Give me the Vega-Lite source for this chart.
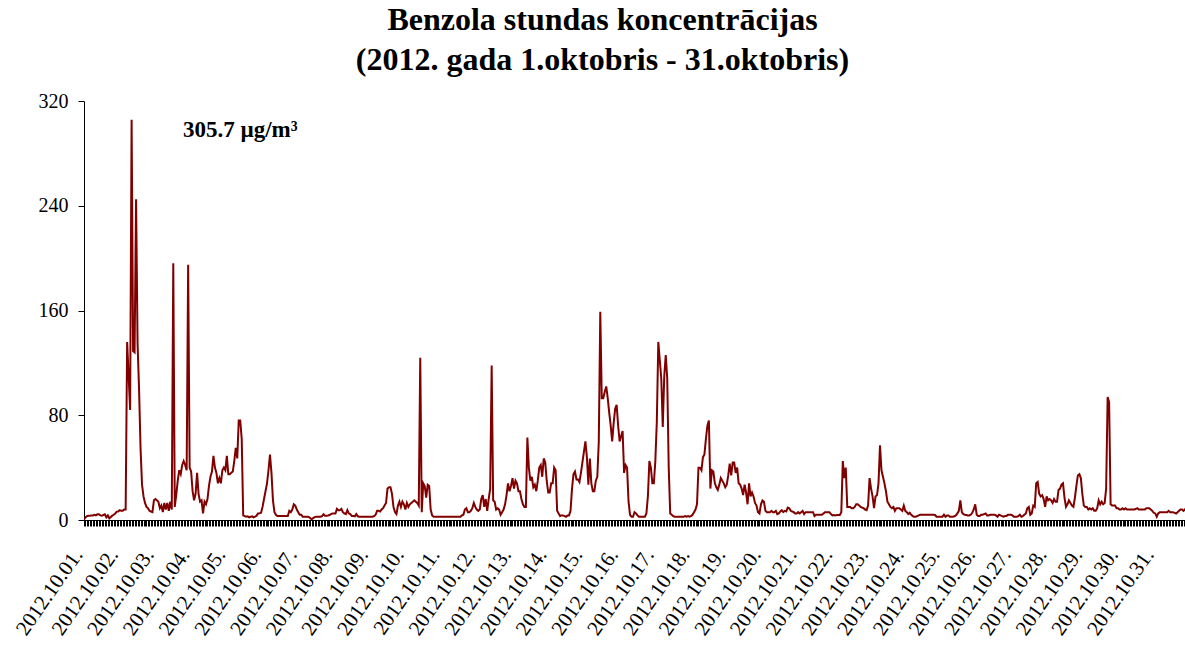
{
  "$schema": "https://vega.github.io/schema/vega-lite/v6.json",
  "width": 1101,
  "height": 419,
  "autosize": "none",
  "padding": {"left": 84, "top": 101, "right": 0, "bottom": 126},
  "background": "white",
  "config": {"view": {"stroke": null}},
  "title": {
    "text": ["Benzola stundas koncentrācijas", "(2012. gada 1.oktobris - 31.oktobris)"],
    "font": "Liberation Serif",
    "fontSize": 32,
    "fontWeight": "bold",
    "color": "black",
    "anchor": "middle",
    "frame": "group",
    "dx": -32,
    "lineHeight": 40,
    "offset": 14
  },
  "layer": [
    {
      "data": {"values": [
{"h":0,"v":0.5},{"h":1,"v":2},{"h":2,"v":3},{"h":3,"v":3.3},{"h":4,"v":3.3},{"h":5,"v":3.5},{"h":6,"v":3.5},{"h":7,"v":4},{"h":8,"v":3.5},{"h":9,"v":4.3},{"h":10,"v":4.3},{"h":11,"v":3.5},{"h":12,"v":3.3},{"h":13,"v":3.8},{"h":14,"v":4.3},{"h":15,"v":2},{"h":16,"v":3.5},{"h":17,"v":1.3},{"h":18,"v":2.3},{"h":19,"v":3.3},{"h":20,"v":4},{"h":21,"v":5},{"h":22,"v":6.4},{"h":23,"v":6.5},
{"h":24,"v":7.5},{"h":25,"v":7},{"h":26,"v":7},{"h":27,"v":8},{"h":28,"v":8},{"h":29,"v":136},{"h":30,"v":110},{"h":31,"v":84},{"h":32,"v":305.7},{"h":33,"v":129},{"h":34,"v":128},{"h":35,"v":245},{"h":36,"v":135},{"h":37,"v":100},{"h":38,"v":55},{"h":39,"v":27},{"h":40,"v":18},{"h":41,"v":13},{"h":42,"v":10},{"h":43,"v":9},{"h":44,"v":7},{"h":45,"v":6.5},{"h":46,"v":6},{"h":47,"v":15},
{"h":48,"v":16},{"h":49,"v":15},{"h":50,"v":14},{"h":51,"v":9},{"h":52,"v":11},{"h":53,"v":6},{"h":54,"v":13},{"h":55,"v":8},{"h":56,"v":13},{"h":57,"v":7},{"h":58,"v":14},{"h":59,"v":8},{"h":60,"v":196},{"h":61,"v":10},{"h":62,"v":19},{"h":63,"v":30},{"h":64,"v":38},{"h":65,"v":35},{"h":66,"v":42},{"h":67,"v":45},{"h":68,"v":42},{"h":69,"v":38},{"h":70,"v":195},{"h":71,"v":40},
{"h":72,"v":37},{"h":73,"v":22},{"h":74,"v":15},{"h":75,"v":20},{"h":76,"v":36},{"h":77,"v":20},{"h":78,"v":14},{"h":79,"v":15},{"h":80,"v":5},{"h":81,"v":14},{"h":82,"v":12},{"h":83,"v":16},{"h":84,"v":26},{"h":85,"v":33},{"h":86,"v":37},{"h":87,"v":49},{"h":88,"v":40},{"h":89,"v":36},{"h":90,"v":28},{"h":91,"v":32},{"h":92,"v":28},{"h":93,"v":38},{"h":94,"v":40},{"h":95,"v":38},
{"h":96,"v":49},{"h":97,"v":35},{"h":98,"v":35},{"h":99,"v":36},{"h":100,"v":37},{"h":101,"v":45},{"h":102,"v":55},{"h":103,"v":47},{"h":104,"v":76},{"h":105,"v":76},{"h":106,"v":62},{"h":107,"v":3.5},{"h":108,"v":3},{"h":109,"v":2.5},{"h":110,"v":2.8},{"h":111,"v":2},{"h":112,"v":2.5},{"h":113,"v":2.8},{"h":114,"v":2},{"h":115,"v":2.5},{"h":116,"v":3.3},{"h":117,"v":5},{"h":118,"v":5.2},{"h":119,"v":5.5},
{"h":120,"v":10},{"h":121,"v":16},{"h":122,"v":22},{"h":123,"v":28},{"h":124,"v":38},{"h":125,"v":50},{"h":126,"v":36},{"h":127,"v":15},{"h":128,"v":6},{"h":129,"v":4},{"h":130,"v":3},{"h":131,"v":3},{"h":132,"v":3},{"h":133,"v":3},{"h":134,"v":3},{"h":135,"v":3},{"h":136,"v":3},{"h":137,"v":3},{"h":138,"v":7},{"h":139,"v":6},{"h":140,"v":8},{"h":141,"v":12},{"h":142,"v":11},{"h":143,"v":8},
{"h":144,"v":6},{"h":145,"v":4},{"h":146,"v":4},{"h":147,"v":2.5},{"h":148,"v":2.5},{"h":149,"v":2.5},{"h":150,"v":2.5},{"h":151,"v":2.3},{"h":152,"v":1.5},{"h":153,"v":0.5},{"h":154,"v":1.5},{"h":155,"v":2.2},{"h":156,"v":2.5},{"h":157,"v":2.5},{"h":158,"v":2.5},{"h":159,"v":2.5},{"h":160,"v":3},{"h":161,"v":4.4},{"h":162,"v":3.3},{"h":163,"v":3.3},{"h":164,"v":3.5},{"h":165,"v":3.8},{"h":166,"v":4.5},{"h":167,"v":5},
{"h":168,"v":5},{"h":169,"v":5},{"h":170,"v":8.5},{"h":171,"v":7.5},{"h":172,"v":7.5},{"h":173,"v":8.5},{"h":174,"v":6},{"h":175,"v":5},{"h":176,"v":4.5},{"h":177,"v":7.5},{"h":178,"v":5},{"h":179,"v":4.5},{"h":180,"v":3},{"h":181,"v":3},{"h":182,"v":2.8},{"h":183,"v":4.5},{"h":184,"v":2.8},{"h":185,"v":2.5},{"h":186,"v":2.5},{"h":187,"v":2.5},{"h":188,"v":2.5},{"h":189,"v":2.5},{"h":190,"v":2.5},{"h":191,"v":2.5},
{"h":192,"v":2.5},{"h":193,"v":2.5},{"h":194,"v":2.5},{"h":195,"v":3},{"h":196,"v":4},{"h":197,"v":7},{"h":198,"v":7},{"h":199,"v":6.5},{"h":200,"v":8},{"h":201,"v":9},{"h":202,"v":11},{"h":203,"v":13},{"h":204,"v":24},{"h":205,"v":25},{"h":206,"v":25},{"h":207,"v":20},{"h":208,"v":10},{"h":209,"v":6},{"h":210,"v":4.5},{"h":211,"v":11},{"h":212,"v":14},{"h":213,"v":10},{"h":214,"v":14},{"h":215,"v":12},
{"h":216,"v":8},{"h":217,"v":13},{"h":218,"v":10},{"h":219,"v":12},{"h":220,"v":13},{"h":221,"v":14},{"h":222,"v":15},{"h":223,"v":14},{"h":224,"v":13},{"h":225,"v":11},{"h":226,"v":124},{"h":227,"v":6},{"h":228,"v":28},{"h":229,"v":26},{"h":230,"v":17},{"h":231,"v":27},{"h":232,"v":26},{"h":233,"v":8},{"h":234,"v":3.5},{"h":235,"v":2.5},{"h":236,"v":2.5},{"h":237,"v":2.5},{"h":238,"v":2.5},{"h":239,"v":2.5},
{"h":240,"v":2.5},{"h":241,"v":2.5},{"h":242,"v":2.5},{"h":243,"v":2.5},{"h":244,"v":2.5},{"h":245,"v":2.5},{"h":246,"v":2.5},{"h":247,"v":2.5},{"h":248,"v":2.5},{"h":249,"v":2.5},{"h":250,"v":2.5},{"h":251,"v":2.5},{"h":252,"v":2.5},{"h":253,"v":2.5},{"h":254,"v":3.5},{"h":255,"v":4},{"h":256,"v":8},{"h":257,"v":9},{"h":258,"v":6},{"h":259,"v":6},{"h":260,"v":7},{"h":261,"v":9},{"h":262,"v":13},{"h":263,"v":10},
{"h":264,"v":8},{"h":265,"v":7},{"h":266,"v":8},{"h":267,"v":16},{"h":268,"v":19},{"h":269,"v":10},{"h":270,"v":16},{"h":271,"v":7},{"h":272,"v":16},{"h":273,"v":24},{"h":274,"v":118},{"h":275,"v":15},{"h":276,"v":14},{"h":277,"v":8},{"h":278,"v":9},{"h":279,"v":8},{"h":280,"v":4},{"h":281,"v":6},{"h":282,"v":8},{"h":283,"v":12},{"h":284,"v":19},{"h":285,"v":28},{"h":286,"v":22},{"h":287,"v":26},
{"h":288,"v":32},{"h":289,"v":24},{"h":290,"v":30},{"h":291,"v":28},{"h":292,"v":22},{"h":293,"v":22},{"h":294,"v":16},{"h":295,"v":12},{"h":296,"v":10},{"h":297,"v":10},{"h":298,"v":63},{"h":299,"v":40},{"h":300,"v":30},{"h":301,"v":33},{"h":302,"v":25},{"h":303,"v":27},{"h":304,"v":22},{"h":305,"v":30},{"h":306,"v":40},{"h":307,"v":42},{"h":308,"v":33},{"h":309,"v":47},{"h":310,"v":44},{"h":311,"v":30},
{"h":312,"v":21},{"h":313,"v":21},{"h":314,"v":28},{"h":315,"v":28},{"h":316,"v":40},{"h":317,"v":38},{"h":318,"v":7},{"h":319,"v":5},{"h":320,"v":3},{"h":321,"v":3.5},{"h":322,"v":3.5},{"h":323,"v":3},{"h":324,"v":2.5},{"h":325,"v":3.5},{"h":326,"v":3.5},{"h":327,"v":7},{"h":328,"v":24},{"h":329,"v":35},{"h":330,"v":37},{"h":331,"v":31},{"h":332,"v":31},{"h":333,"v":29},{"h":334,"v":36},{"h":335,"v":44},
{"h":336,"v":52},{"h":337,"v":60},{"h":338,"v":48},{"h":339,"v":27},{"h":340,"v":47},{"h":341,"v":28},{"h":342,"v":22},{"h":343,"v":22},{"h":344,"v":30},{"h":345,"v":33},{"h":346,"v":60},{"h":347,"v":159},{"h":348,"v":93},{"h":349,"v":93},{"h":350,"v":98},{"h":351,"v":102},{"h":352,"v":93},{"h":353,"v":82},{"h":354,"v":72},{"h":355,"v":60},{"h":356,"v":74},{"h":357,"v":85},{"h":358,"v":88},{"h":359,"v":72},
{"h":360,"v":60},{"h":361,"v":64},{"h":362,"v":68},{"h":363,"v":36},{"h":364,"v":42},{"h":365,"v":40},{"h":366,"v":14},{"h":367,"v":4},{"h":368,"v":2.5},{"h":369,"v":2.5},{"h":370,"v":6},{"h":371,"v":5},{"h":372,"v":3.5},{"h":373,"v":2.5},{"h":374,"v":2.5},{"h":375,"v":2.5},{"h":376,"v":2.5},{"h":377,"v":2.5},{"h":378,"v":5},{"h":379,"v":18},{"h":380,"v":45},{"h":381,"v":40},{"h":382,"v":28},{"h":383,"v":28},
{"h":384,"v":45},{"h":385,"v":75},{"h":386,"v":136},{"h":387,"v":122},{"h":388,"v":108},{"h":389,"v":71},{"h":390,"v":110},{"h":391,"v":126},{"h":392,"v":108},{"h":393,"v":40},{"h":394,"v":5},{"h":395,"v":4},{"h":396,"v":3},{"h":397,"v":2.5},{"h":398,"v":2.5},{"h":399,"v":2.5},{"h":400,"v":2.5},{"h":401,"v":2.5},{"h":402,"v":2.5},{"h":403,"v":2.5},{"h":404,"v":3},{"h":405,"v":2.5},{"h":406,"v":3},{"h":407,"v":2.5},
{"h":408,"v":3},{"h":409,"v":4},{"h":410,"v":6},{"h":411,"v":8},{"h":412,"v":12},{"h":413,"v":40},{"h":414,"v":40},{"h":415,"v":38},{"h":416,"v":48},{"h":417,"v":50},{"h":418,"v":62},{"h":419,"v":72},{"h":420,"v":76},{"h":421,"v":24},{"h":422,"v":38},{"h":423,"v":37},{"h":424,"v":28},{"h":425,"v":25},{"h":426,"v":23},{"h":427,"v":27},{"h":428,"v":32},{"h":429,"v":30},{"h":430,"v":28},{"h":431,"v":25},
{"h":432,"v":27},{"h":433,"v":34},{"h":434,"v":43},{"h":435,"v":34},{"h":436,"v":44},{"h":437,"v":44},{"h":438,"v":36},{"h":439,"v":40},{"h":440,"v":28},{"h":441,"v":27},{"h":442,"v":24},{"h":443,"v":19},{"h":444,"v":27},{"h":445,"v":21},{"h":446,"v":12},{"h":447,"v":28},{"h":448,"v":18},{"h":449,"v":21},{"h":450,"v":18},{"h":451,"v":13},{"h":452,"v":11},{"h":453,"v":6},{"h":454,"v":5},{"h":455,"v":12},
{"h":456,"v":15},{"h":457,"v":14},{"h":458,"v":7},{"h":459,"v":6},{"h":460,"v":6},{"h":461,"v":6},{"h":462,"v":7},{"h":463,"v":6},{"h":464,"v":6},{"h":465,"v":7},{"h":466,"v":4.5},{"h":467,"v":5},{"h":468,"v":6.5},{"h":469,"v":7.5},{"h":470,"v":6},{"h":471,"v":7},{"h":472,"v":6.5},{"h":473,"v":9.5},{"h":474,"v":9},{"h":475,"v":7},{"h":476,"v":6.5},{"h":477,"v":6},{"h":478,"v":5},{"h":479,"v":5},
{"h":480,"v":6},{"h":481,"v":5},{"h":482,"v":6},{"h":483,"v":7},{"h":484,"v":4.5},{"h":485,"v":6},{"h":486,"v":6},{"h":487,"v":6},{"h":488,"v":6},{"h":489,"v":6},{"h":490,"v":6},{"h":491,"v":3},{"h":492,"v":4},{"h":493,"v":4},{"h":494,"v":4},{"h":495,"v":4},{"h":496,"v":4},{"h":497,"v":5},{"h":498,"v":6},{"h":499,"v":6},{"h":500,"v":6},{"h":501,"v":6},{"h":502,"v":4.5},{"h":503,"v":3.5},
{"h":504,"v":3.8},{"h":505,"v":3.5},{"h":506,"v":3.8},{"h":507,"v":3.8},{"h":508,"v":3.8},{"h":509,"v":6},{"h":510,"v":45},{"h":511,"v":32},{"h":512,"v":40},{"h":513,"v":10},{"h":514,"v":10},{"h":515,"v":10},{"h":516,"v":9},{"h":517,"v":9},{"h":518,"v":10},{"h":519,"v":12},{"h":520,"v":12},{"h":521,"v":11},{"h":522,"v":10},{"h":523,"v":9.5},{"h":524,"v":9},{"h":525,"v":8},{"h":526,"v":7.5},{"h":527,"v":11},
{"h":528,"v":32},{"h":529,"v":24},{"h":530,"v":18},{"h":531,"v":9},{"h":532,"v":18},{"h":533,"v":19},{"h":534,"v":28},{"h":535,"v":57},{"h":536,"v":38},{"h":537,"v":33},{"h":538,"v":28},{"h":539,"v":22},{"h":540,"v":14},{"h":541,"v":12},{"h":542,"v":10},{"h":543,"v":9},{"h":544,"v":10},{"h":545,"v":7},{"h":546,"v":9},{"h":547,"v":9},{"h":548,"v":9},{"h":549,"v":8},{"h":550,"v":7},{"h":551,"v":11},
{"h":552,"v":7},{"h":553,"v":6},{"h":554,"v":4.5},{"h":555,"v":5.5},{"h":556,"v":4},{"h":557,"v":3},{"h":558,"v":2.5},{"h":559,"v":2.5},{"h":560,"v":3},{"h":561,"v":3.5},{"h":562,"v":4},{"h":563,"v":4},{"h":564,"v":4},{"h":565,"v":4},{"h":566,"v":4},{"h":567,"v":4},{"h":568,"v":4},{"h":569,"v":4},{"h":570,"v":4},{"h":571,"v":4},{"h":572,"v":3.8},{"h":573,"v":2.5},{"h":574,"v":2.5},{"h":575,"v":2.5},
{"h":576,"v":2.5},{"h":577,"v":2.5},{"h":578,"v":4},{"h":579,"v":2.5},{"h":580,"v":3.5},{"h":581,"v":3.5},{"h":582,"v":2.5},{"h":583,"v":2.5},{"h":584,"v":2.5},{"h":585,"v":2.8},{"h":586,"v":3.5},{"h":587,"v":5},{"h":588,"v":7},{"h":589,"v":15},{"h":590,"v":6},{"h":591,"v":4.5},{"h":592,"v":4},{"h":593,"v":3.8},{"h":594,"v":3.5},{"h":595,"v":3.5},{"h":596,"v":4},{"h":597,"v":5.5},{"h":598,"v":8},{"h":599,"v":12},
{"h":600,"v":4},{"h":601,"v":3},{"h":602,"v":3},{"h":603,"v":4},{"h":604,"v":4},{"h":605,"v":4.5},{"h":606,"v":5},{"h":607,"v":3.5},{"h":608,"v":3.5},{"h":609,"v":4},{"h":610,"v":4},{"h":611,"v":4},{"h":612,"v":4},{"h":613,"v":3.5},{"h":614,"v":2.5},{"h":615,"v":4},{"h":616,"v":3.5},{"h":617,"v":3},{"h":618,"v":2.5},{"h":619,"v":3},{"h":620,"v":3},{"h":621,"v":4},{"h":622,"v":4},{"h":623,"v":4},
{"h":624,"v":3.5},{"h":625,"v":2.5},{"h":626,"v":2.5},{"h":627,"v":2.5},{"h":628,"v":3},{"h":629,"v":4},{"h":630,"v":2.5},{"h":631,"v":3},{"h":632,"v":4},{"h":633,"v":5},{"h":634,"v":9},{"h":635,"v":10},{"h":636,"v":4},{"h":637,"v":5},{"h":638,"v":11},{"h":639,"v":10},{"h":640,"v":28},{"h":641,"v":29},{"h":642,"v":20},{"h":643,"v":18},{"h":644,"v":19},{"h":645,"v":16},{"h":646,"v":10},{"h":647,"v":18},
{"h":648,"v":15},{"h":649,"v":16},{"h":650,"v":15},{"h":651,"v":13},{"h":652,"v":16},{"h":653,"v":14},{"h":654,"v":14},{"h":655,"v":23},{"h":656,"v":24},{"h":657,"v":27},{"h":658,"v":28},{"h":659,"v":17},{"h":660,"v":10},{"h":661,"v":12},{"h":662,"v":15},{"h":663,"v":13},{"h":664,"v":11},{"h":665,"v":10},{"h":666,"v":17},{"h":667,"v":26},{"h":668,"v":34},{"h":669,"v":35},{"h":670,"v":32},{"h":671,"v":20},
{"h":672,"v":11},{"h":673,"v":10},{"h":674,"v":10},{"h":675,"v":8},{"h":676,"v":9},{"h":677,"v":8},{"h":678,"v":9},{"h":679,"v":7},{"h":680,"v":7},{"h":681,"v":9},{"h":682,"v":15},{"h":683,"v":12},{"h":684,"v":14},{"h":685,"v":12},{"h":686,"v":13},{"h":687,"v":24},{"h":688,"v":94},{"h":689,"v":90},{"h":690,"v":12},{"h":691,"v":11},{"h":692,"v":11},{"h":693,"v":11},{"h":694,"v":9},{"h":695,"v":9},
{"h":696,"v":8},{"h":697,"v":8},{"h":698,"v":9},{"h":699,"v":8},{"h":700,"v":9},{"h":701,"v":8},{"h":702,"v":8},{"h":703,"v":8},{"h":704,"v":8},{"h":705,"v":8},{"h":706,"v":8},{"h":707,"v":8.5},{"h":708,"v":9},{"h":709,"v":8},{"h":710,"v":8},{"h":711,"v":8},{"h":712,"v":8},{"h":713,"v":8},{"h":714,"v":9},{"h":715,"v":9},{"h":716,"v":9},{"h":717,"v":8},{"h":718,"v":7},{"h":719,"v":5.5},
{"h":720,"v":5},{"h":721,"v":2.5},{"h":722,"v":5},{"h":723,"v":6},{"h":724,"v":6},{"h":725,"v":6},{"h":726,"v":6},{"h":727,"v":6},{"h":728,"v":6},{"h":729,"v":7},{"h":730,"v":6},{"h":731,"v":6},{"h":732,"v":6},{"h":733,"v":5.5},{"h":734,"v":5},{"h":735,"v":6},{"h":736,"v":7},{"h":737,"v":8},{"h":738,"v":8},{"h":739,"v":7},{"h":740,"v":8},{"h":741,"v":10},{"h":742,"v":11},{"h":743,"v":10}
      ]},
      "mark": {"type": "line", "color": "#800000", "strokeWidth": 2, "clip": true},
      "encoding": {
        "x": {
          "field": "h",
          "type": "quantitative",
          "scale": {"domain": [0, 740], "nice": false, "zero": false},
          "axis": {
            "title": null,
            "grid": false,
            "domainColor": "black",
            "domainWidth": 1,
            "tickCount": 740,
            "tickColor": "black",
            "tickSize": 6,
            "tickWidth": 1,
            "labelOverlap": false,
            "labelFlush": false,
            "labelBound": false,
            "labelAngle": -55,
            "labelAlign": "right",
            "labelBaseline": "middle",
            "labelFont": "Liberation Serif",
            "labelFontSize": 21,
            "labelColor": "black",
            "labelPadding": 25,
            "labelOffset": -6,
            "labelExpr": "datum.value % 24 === 0 ? '2012.10.' + (datum.value < 216 ? '0' : '') + (datum.value / 24 + 1) + '.' : ''"
          }
        },
        "y": {
          "field": "v",
          "type": "quantitative",
          "scale": {"domain": [0, 320], "nice": false},
          "axis": {
            "title": null,
            "grid": false,
            "values": [0, 80, 160, 240, 320],
            "domainColor": "black",
            "tickColor": "black",
            "tickSize": 6,
            "labelFont": "Liberation Serif",
            "labelFontSize": 20,
            "labelColor": "black",
            "labelPadding": 10
          }
        }
      }
    },
    {
      "data": {"values": [{"h": 66.5, "v": 292.6, "label": "305.7 µg/m³"}]},
      "mark": {"type": "text", "align": "left", "baseline": "alphabetic", "font": "Liberation Serif", "fontSize": 23, "fontWeight": "bold", "color": "black"},
      "encoding": {
        "x": {"field": "h", "type": "quantitative"},
        "y": {"field": "v", "type": "quantitative"},
        "text": {"field": "label"}
      }
    }
  ]
}
